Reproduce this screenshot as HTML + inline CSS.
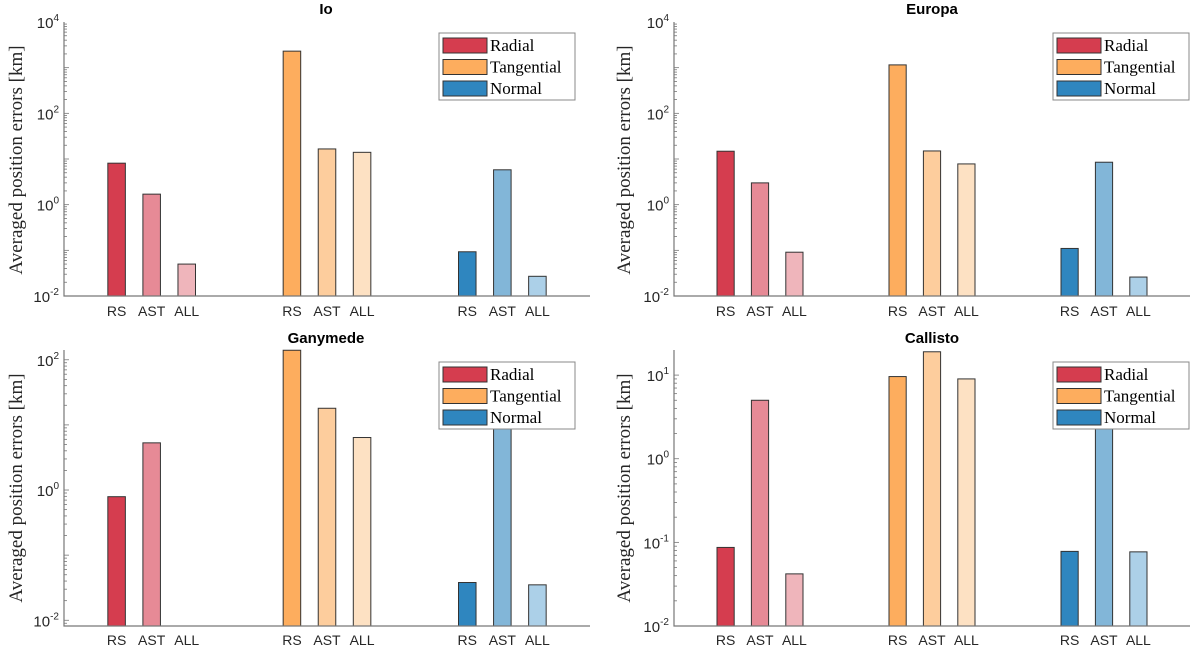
<!DOCTYPE html>
<html><head><meta charset="utf-8">
<style>
html,body{margin:0;padding:0;background:#fff;}
svg{display:block;}
.tick{font-family:"Liberation Sans",sans-serif;font-size:15px;fill:#262626;}
.cat{font-family:"Liberation Sans",sans-serif;font-size:14px;fill:#262626;}
.ttl{font-family:"Liberation Sans",sans-serif;font-size:15px;font-weight:bold;fill:#000;}
.ylab{font-family:"Liberation Serif",serif;font-size:19px;fill:#262626;}
.leg{font-family:"Liberation Serif",serif;font-size:17px;fill:#000;}
</style></head>
<body>
<svg id="chart" width="1200" height="649" viewBox="0 0 1200 649"></svg>
<script>
const moons = ["Io","Europa","Ganymede","Callisto"];
const components = ["Radial","Tangential","Normal"];
const methods = ["RS","AST","ALL"];
// values[moon][component][method] in km
const ioValues = [[8.1,1.7,0.05],[2300,16.6,14],[0.093,5.8,0.027]];
const europaValues = [[14.8,3.0,0.091],[1150,15,7.8],[0.11,8.5,0.026]];
const ganymedeValues = [[0.79,5.3,0.008],[140,18,6.4],[0.038,12,0.035]];
const callistoValues = [[0.087,5.0,0.042],[9.6,19,9.0],[0.078,10,0.077]];
const ioTicks = [-2,0,2,4];
const europaTicks = [-2,0,2,4];
const ganymedeTicks = [-2,0,2];
const callistoTicks = [-2,-1,0,1];

const allValues=[ioValues,europaValues,ganymedeValues,callistoValues];
const allTicks=[ioTicks,europaTicks,ganymedeTicks,callistoTicks];
const panels=[
 {x0:64,x1:590,yT:22,yB:296,lmin:-2,lmax:4,lx:439,ly:33,ylx:16,yly:160,tx:326,ty:14,cy:316},
 {x0:674,x1:1190,yT:22,yB:296,lmin:-2,lmax:4,lx:1053,ly:33,ylx:624,yly:160,tx:932,ty:14,cy:316},
 {x0:64,x1:590,yT:350,yB:626,lmin:-2.088,lmax:2.15,lx:439,ly:362,ylx:16,yly:488,tx:326,ty:343,cy:645},
 {x0:674,x1:1190,yT:350,yB:626,lmin:-2,lmax:1.3,lx:1053,ly:362,ylx:624,yly:488,tx:932,ty:343,cy:645}
];
const colors=[["#d53d4f","#e68a96","#efb5bb"],["#fdad5e","#fdcd9d","#fde1c3"],["#2f86bf","#82b6d8","#acd0e8"]];
const NS="http://www.w3.org/2000/svg";
const svg=document.getElementById('chart');
function mk(tag,attrs,parent){const e=document.createElementNS(NS,tag);for(const k in attrs)e.setAttribute(k,attrs[k]);(parent||svg).appendChild(e);return e;}

panels.forEach((p,pi)=>{
  const g=mk('g',{});
  
  
  const yS=v=>{const l=Math.log10(v);return p.yB-(l-p.lmin)/(p.lmax-p.lmin)*(p.yB-p.yT);};
  const step=(p.x1-p.x0)/3;
  const xS=i=>p.x0+step*(i+0.5);
  const vals=allValues[pi];
  components.forEach((c,ci)=>{
    methods.forEach((m,mi)=>{
      const v=vals[ci][mi];
      const cx=xS(ci)+(mi-1)*step*0.2;
      const w=step*0.1;
      let y=yS(v); if(y>p.yB) y=p.yB; if(y<p.yT) y=p.yT;
      const r=mk('rect',{x:cx-w/2,y:y,width:w,height:Math.max(0,p.yB-y),fill:colors[ci][mi],stroke:'#333',"stroke-width":1},g);
      
      
      const t=mk('text',{x:cx,y:p.cy,"text-anchor":"middle",class:"cat"},g);
      t.textContent=m;
      
      
    });
  });
  const ax=mk('path',{d:`M${p.x0},${p.yT}V${p.yB}H${p.x1}`,fill:'none',stroke:'#777',"stroke-width":1.2},g);
  
  
  for(let d=Math.floor(p.lmin);d<Math.ceil(p.lmax);d++){
    for(let k=1;k<10;k++){
      const l=d+Math.log10(k);
      if(l<p.lmin||l>p.lmax) continue;
      const y=p.yB-(l-p.lmin)/(p.lmax-p.lmin)*(p.yB-p.yT);
      const len=k==1?5:3;
      mk('line',{x1:p.x0,x2:p.x0+len,y1:y,y2:y,stroke:'#777',"stroke-width":0.8},g);
    }
  }
  allTicks[pi].forEach(tk=>{
    const y=p.yB-(tk-p.lmin)/(p.lmax-p.lmin)*(p.yB-p.yT);
    const t=mk('text',{x:p.x0-5,y:y+6,"text-anchor":"end",class:"tick"},g);
    
    
    const a=mk('tspan',{},t);a.textContent='10';
    const b=mk('tspan',{dy:-7,"font-size":"10px"},t);b.textContent=String(tk);
  });
  const tt=mk('text',{x:p.tx,y:p.ty,"text-anchor":"middle",class:"ttl"},g);
  tt.textContent=moons[pi];
  
  
  const yl=mk('text',{x:p.ylx,y:p.yly,"text-anchor":"middle",class:"ylab",transform:`rotate(-90 ${p.ylx} ${p.yly})`,dy:6},g);
  yl.textContent='Averaged position errors [km]';
  
  
  const lg=mk('g',{},g);
  
  
  mk('rect',{x:p.lx,y:p.ly,width:136,height:67,fill:'#fff',stroke:'#888',"stroke-width":1},lg);
  components.forEach((c,ci)=>{
    const yy=p.ly+5+ci*21.5;
    const sw=mk('rect',{x:p.lx+4,y:yy,width:44,height:15,fill:colors[ci][0],stroke:'#333',"stroke-width":1},lg);
    
    
    const t=mk('text',{x:p.lx+51,y:yy+13,class:'leg'},lg);
    t.textContent=c;
    
    
  });
});
</script>
</body></html>
